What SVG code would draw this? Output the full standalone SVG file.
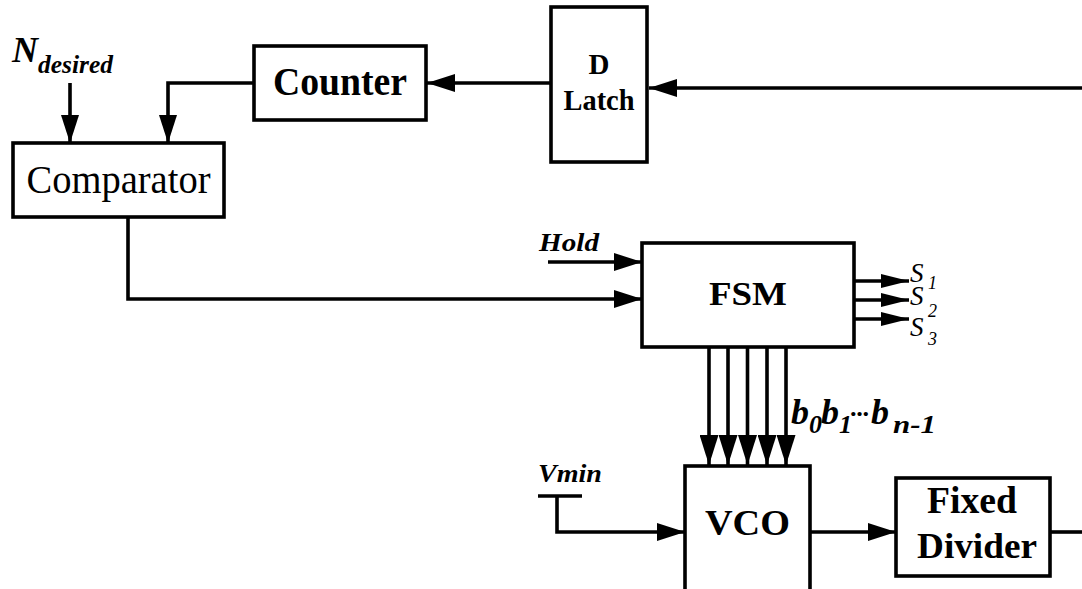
<svg xmlns="http://www.w3.org/2000/svg" width="1082" height="589" viewBox="0 0 1082 589" font-family="'Liberation Serif', 'DejaVu Serif', serif">
<style>
.box{fill:#fff;stroke:#000;stroke-width:3.6}
.ln{fill:none;stroke:#000;stroke-width:3.6}
.a{marker-end:url(#arr)}
.as{marker-end:url(#arrS)}
.ab{marker-end:url(#arrB)}
text{font-family:'Liberation Serif','DejaVu Serif',serif;fill:#000}
.r{font-weight:normal}
.b{font-weight:bold}
.bi{font-weight:bold;font-style:italic}
.i{font-style:italic}
.c{text-anchor:middle}
</style>
<defs>
<marker id="arr" markerUnits="userSpaceOnUse" markerWidth="28" markerHeight="18" viewBox="0 0 28 18" refX="28" refY="9" orient="auto"><path d="M0,0 L28,9 L0,18 z" fill="#000"/></marker>
<marker id="arrS" markerUnits="userSpaceOnUse" markerWidth="28" markerHeight="14" viewBox="0 0 28 14" refX="28" refY="7" orient="auto"><path d="M0,0 L28,7 L0,14 z" fill="#000"/></marker>
<marker id="arrB" markerUnits="userSpaceOnUse" markerWidth="30" markerHeight="19" viewBox="0 0 30 19" refX="30" refY="9.5" orient="auto"><path d="M0,0 L30,9.5 L0,19 z" fill="#000"/></marker>
</defs>
<rect width="1082" height="589" fill="#fff"/>
<g id="connectors">
<path class="ln a" d="M551,83 L427,83"/>
<path class="ln a" d="M1082,88 L649,88"/>
<path class="ln a" d="M254,83 L168,83 L168,143"/>
<path class="ln a" d="M70,83 L70,143"/>
<path class="ln a" d="M128,217 L128,299 L642,299"/>
<path class="ln a" d="M548,262 L642,262"/>
<path class="ln as" d="M854,281 L909,281"/>
<path class="ln as" d="M854,300 L909,300"/>
<path class="ln as" d="M854,319 L909,319"/>
<path class="ln ab" d="M709,347 L709,465"/>
<path class="ln ab" d="M728,347 L728,465"/>
<path class="ln ab" d="M747.5,347 L747.5,465"/>
<path class="ln ab" d="M767,347 L767,465"/>
<path class="ln ab" d="M786,347 L786,465"/>
<path class="ln" d="M538,496 L582,496"/>
<path class="ln a" d="M557,496 L557,532 L685,532"/>
<path class="ln a" d="M810,532 L896,532"/>
<path class="ln" d="M1050,532 L1082,532"/>
</g>
<g id="labels">
<text class="bi" x="12" y="62" font-size="36">N</text>
<text class="bi" x="38" y="73" font-size="25" textLength="75" lengthAdjust="spacingAndGlyphs">desired</text>
<text class="bi" x="539" y="251" font-size="25" textLength="60" lengthAdjust="spacingAndGlyphs">Hold</text>
<text class="bi" x="538" y="482" font-size="25" textLength="64" lengthAdjust="spacingAndGlyphs">Vmin</text>
<text class="i" x="910" y="282" font-size="27">S</text>
<text class="i" x="928" y="289" font-size="18">1</text>
<text class="i" x="910" y="305" font-size="27">S</text>
<text class="i" x="928" y="317" font-size="18">2</text>
<text class="i" x="910" y="336" font-size="27">S</text>
<text class="i" x="928" y="345" font-size="18">3</text>
<text class="bi" x="791" y="424" font-size="36">b</text>
<text class="bi" x="809" y="433" font-size="26">0</text>
<text class="bi" x="821" y="424" font-size="36">b</text>
<text class="bi" x="839" y="433" font-size="26">1</text>
<text class="bi" x="851" y="416" font-size="26" textLength="19" lengthAdjust="spacing">...</text>
<text class="bi" x="871" y="424" font-size="36">b</text>
<text class="bi" x="893" y="433" font-size="26" textLength="43" lengthAdjust="spacingAndGlyphs">n-1</text>
</g>
<g id="comparator">
<rect class="box" x="13" y="143" width="211" height="74"/>
<text class="r c" x="118.5" y="193" font-size="41" textLength="184" lengthAdjust="spacingAndGlyphs">Comparator</text>
</g>
<g id="counter">
<rect class="box" x="254" y="46" width="172" height="74"/>
<text class="b c" x="340" y="95" font-size="40" textLength="134" lengthAdjust="spacingAndGlyphs">Counter</text>
</g>
<g id="dlatch">
<rect class="box" x="551" y="7" width="96" height="155"/>
<text class="b c" x="599" y="74" font-size="29">D</text>
<text class="b c" x="599" y="110" font-size="29" textLength="71" lengthAdjust="spacingAndGlyphs">Latch</text>
</g>
<g id="fsm">
<rect class="box" x="642" y="243" width="212" height="104"/>
<text class="b c" x="748" y="305" font-size="34" textLength="78" lengthAdjust="spacingAndGlyphs">FSM</text>
</g>
<g id="vco">
<rect class="box" x="685" y="466" width="125" height="140"/>
<text class="b c" x="747.5" y="535" font-size="35" textLength="85" lengthAdjust="spacingAndGlyphs">VCO</text>
</g>
<g id="fixeddivider">
<rect class="box" x="896" y="478" width="154" height="98"/>
<text class="b c" x="972" y="513" font-size="37" textLength="90" lengthAdjust="spacingAndGlyphs">Fixed</text>
<text class="b c" x="977" y="558" font-size="36" textLength="120" lengthAdjust="spacingAndGlyphs">Divider</text>
</g>
</svg>
